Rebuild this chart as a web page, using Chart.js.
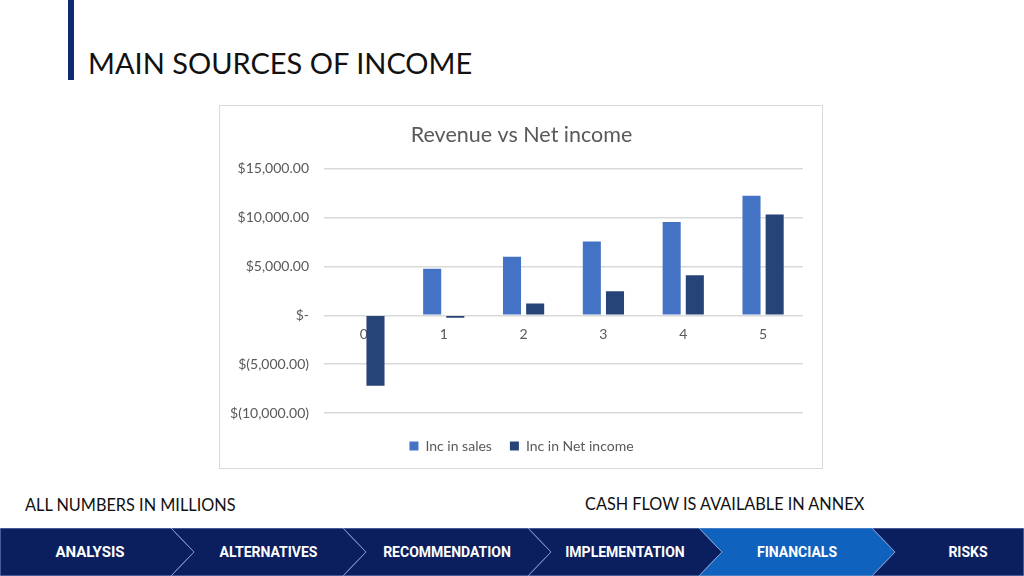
<!DOCTYPE html>
<html>
<head>
<meta charset="utf-8">
<script src="https://cdn.jsdelivr.net/npm/chart.js@4"></script>
<style>
  body { margin: 0; width: 1024px; height: 576px; overflow: hidden; background: #fff; font-family: Lato, "Open Sans", sans-serif; position: relative; }
  #bar { position: absolute; left: 68px; top: 0; width: 6px; height: 80px; background: #0d2b6e; }
  #heading { position: absolute; left: 88px; top: 45px; font-size: 29px; color: #111; }
  #box { position: absolute; left: 219px; top: 105px; width: 602px; height: 362px; border: 1px solid #d9d9d9; background: #fff; }
  #grafico { position: absolute; left: 0; top: 0; }
  .note { position: absolute; font-size: 16.3px; color: #111; }
  #nav { position: absolute; left: 0; top: 528px; }
</style>
</head>
<body>
<div id="bar"></div>
<div id="heading">MAIN SOURCES OF INCOME</div>
<div id="box"><canvas id="grafico" width="602" height="357"></canvas></div>
<div class="note" style="left:25px;top:495px;">ALL NUMBERS IN MILLIONS</div>
<div class="note" style="left:585px;top:494px;">CASH FLOW IS AVAILABLE IN ANNEX</div>
<svg id="nav" width="1024" height="48"></svg>

<script>
// Dados do gráfico
const anos = ['0', '1', '2', '3', '4', '5'];
const incVendas = [0, 4760, 5990, 7570, 9560, 12230];
const incLucro = [-7210, -240, 1200, 2470, 4110, 10310];
const ticksY = [-10000, -5000, 0, 5000, 10000, 15000];

// Etapas da barra de navegação
const etapas = ['ANALYSIS', 'ALTERNATIVES', 'RECOMMENDATION', 'IMPLEMENTATION', 'FINANCIALS', 'RISKS'];
const etapaAtiva = 'FINANCIALS';

// Formato contábil do Excel
function formatoContabil(v) {
  if (v === 0) return '$-';
  const s = Math.abs(v).toLocaleString('en-US', { minimumFractionDigits: 2, maximumFractionDigits: 2 });
  return v < 0 ? '$(' + s + ')' : '$' + s;
}

const cinza = '#595959';

new Chart(document.getElementById('grafico').getContext('2d'), {
  type: 'bar',
  data: {
    labels: anos,
    datasets: [{
      label: 'Inc in sales',
      data: incVendas,
      backgroundColor: '#4472C4'
    }, {
      label: 'Inc in Net income',
      data: incLucro,
      backgroundColor: '#264478'
    }]
  },
  options: {
    responsive: false,
    animation: false,
    layout: { padding: { left: 10, right: 9, bottom: 0 } },
    datasets: { bar: { categoryPercentage: 0.58, barPercentage: 0.78 } },
    plugins: {
      title: {
        display: true,
        text: 'Revenue vs Net income',
        color: cinza,
        font: { family: 'Lato', size: 21.5, weight: 'normal' },
        padding: { top: 16, bottom: 21 }
      },
      legend: {
        position: 'bottom',
        // título vazio só para dar espaço acima da legenda
        title: { display: true, text: '', font: { size: 5 }, padding: 1 },
        labels: { color: cinza, boxWidth: 9, boxHeight: 9, font: { family: 'Lato', size: 14 }, padding: 18 }
      },
      tooltip: { enabled: false }
    },
    scales: {
      x: {
        position: { y: 0 },
        grid: { display: false, drawTicks: false },
        border: { display: false },
        ticks: { color: cinza, font: { family: 'Lato', size: 14 }, padding: 11 }
      },
      y: {
        min: -10000,
        max: 15000,
        afterBuildTicks: (scale) => { scale.ticks = ticksY.map(v => ({ value: v })); },
        afterFit: (scale) => { scale.width = 94; },
        grid: { color: '#d9d9d9', lineWidth: 1.5, drawTicks: false },
        border: { display: false },
        ticks: { color: cinza, font: { family: 'Lato', size: 14 }, padding: 15, callback: (v) => formatoContabil(v) }
      },
      // eixo vazio à direita, só para centralizar título e legenda
      y2: {
        position: 'right',
        afterFit: (scale) => { scale.width = 10; },
        grid: { display: false, drawTicks: false },
        border: { display: false },
        ticks: { display: false }
      }
    }
  }
});

// Barra de navegação em chevrons
const svg = document.getElementById('nav');
const ns = 'http://www.w3.org/2000/svg';
const limites = [0, 171, 343, 528, 699, 872, 1024];
const prof = 23;
etapas.forEach((nome, i) => {
  const L = limites[i];
  const R = limites[i + 1];
  const pts = [];
  pts.push([L, 0]);
  if (i < etapas.length - 1) pts.push([R, 0], [R + prof, 24], [R, 48]);
  else pts.push([R, 0], [R, 48]);
  pts.push([L, 48]);
  if (i > 0) pts.push([L + prof, 24]);
  const poly = document.createElementNS(ns, 'polygon');
  poly.setAttribute('points', pts.map(p => p.join(',')).join(' '));
  poly.setAttribute('fill', nome === etapaAtiva ? '#0f62be' : '#0b1f5e');
  poly.setAttribute('stroke', '#7f9ccf');
  poly.setAttribute('stroke-width', '1');
  svg.appendChild(poly);
});
etapas.forEach((nome, i) => {
  const L = limites[i];
  const R = limites[i + 1];
  const cx = i === 0 ? 90 : (i === etapas.length - 1 ? 968 : (L + R) / 2 + prof / 2);
  const t = document.createElementNS(ns, 'text');
  t.setAttribute('x', cx);
  t.setAttribute('y', 29);
  t.setAttribute('text-anchor', 'middle');
  t.setAttribute('fill', '#fff');
  t.setAttribute('font-family', 'Roboto, sans-serif');
  t.setAttribute('font-weight', 'bold');
  t.setAttribute('font-size', i === 0 ? 15 : 14);
  t.textContent = nome;
  svg.appendChild(t);
});
</script>
</body>
</html>
